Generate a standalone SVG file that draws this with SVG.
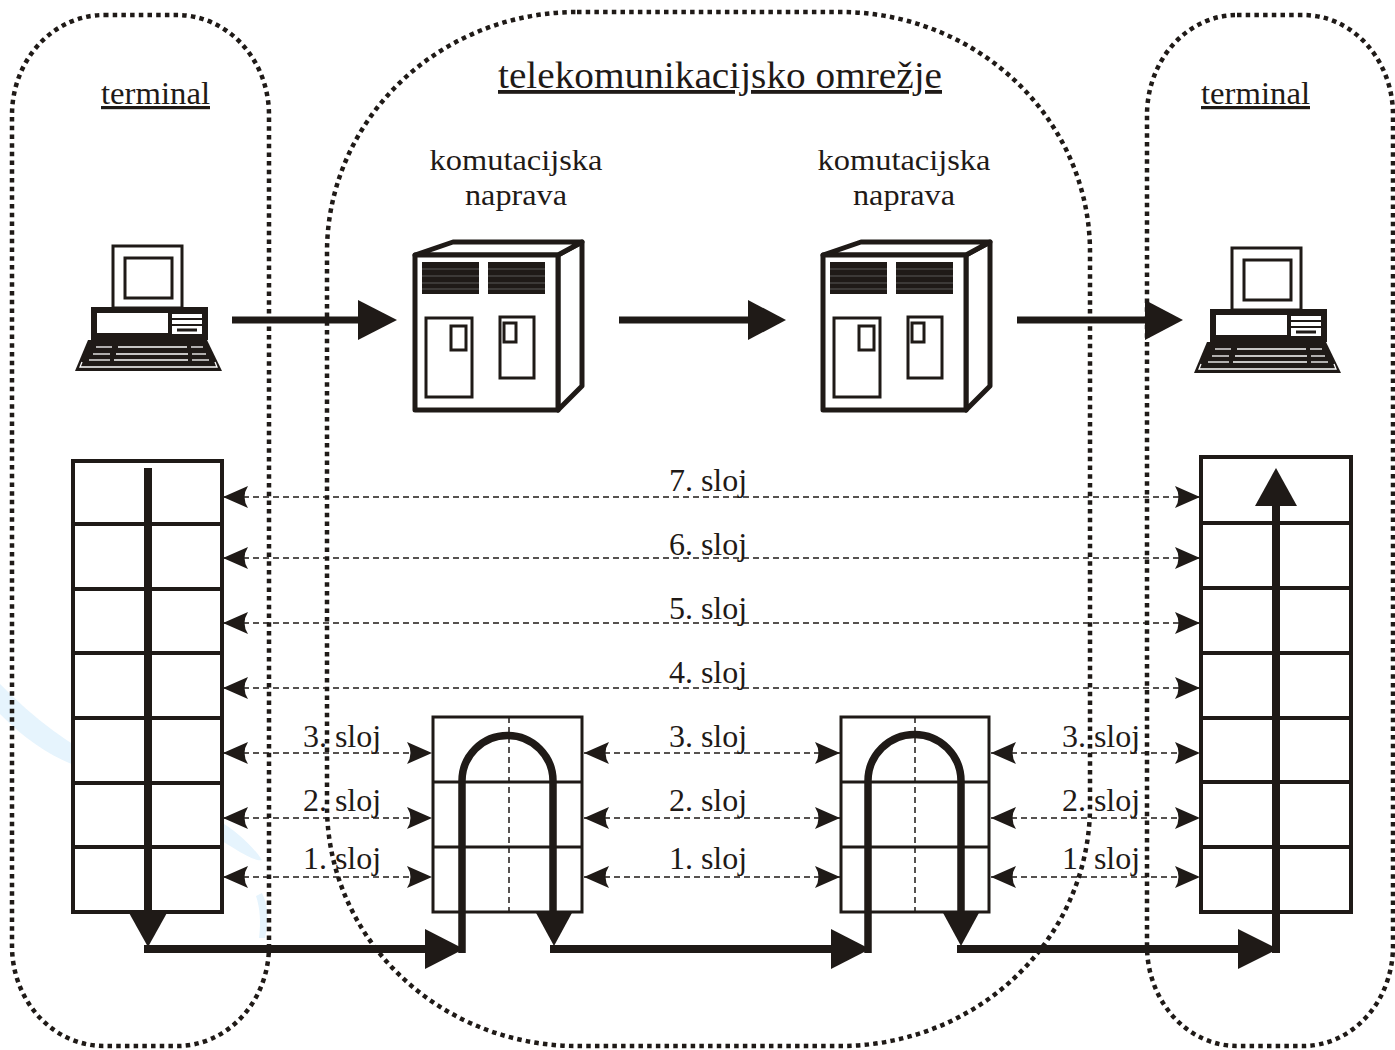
<svg xmlns="http://www.w3.org/2000/svg" width="1395" height="1050" viewBox="0 0 1395 1050">
  <style>
    .zone{fill:none;stroke:#1f1a17;stroke-width:4.5;stroke-dasharray:4.5 4.2}
    .txt{font-family:"Liberation Serif","Times New Roman",serif;fill:#1f1a17;text-anchor:middle}
    .ul{text-decoration:underline}
    .cell{fill:#fff;stroke:#1f1a17;stroke-width:4}
    .row{stroke:#1f1a17;stroke-width:4}
    .rbox{fill:#fff;stroke:#1f1a17;stroke-width:3}
    .rrow{stroke:#1f1a17;stroke-width:3}
    .axis{stroke:#1f1a17;stroke-width:1.5;stroke-dasharray:6 4}
    .flow{fill:none;stroke:#1f1a17;stroke-width:8}
    .loop{fill:none;stroke:#1f1a17;stroke-width:7.5}
    .head{fill:#1f1a17}
    .peer{fill:none;stroke:#1f1a17;stroke-width:1.5;stroke-dasharray:6 4;marker-start:url(#peerHead);marker-end:url(#peerHead)}
    .ink{fill:#1f1a17}
    .wline{stroke:#fff;stroke-width:1.3}
    .vent{stroke:#6b6b6b;stroke-width:0.8}
    .face{fill:#fff;stroke:#1f1a17;stroke-width:5;stroke-linejoin:round}
    .thin{fill:#fff;stroke:#1f1a17;stroke-width:3}
  </style>
  <defs>
    <marker id="peerHead" viewBox="0 0 25 22" refX="25" refY="11" markerWidth="25" markerHeight="22" markerUnits="userSpaceOnUse" orient="auto-start-reverse">
      <path d="M25,11 L0,0 Q7,11 0,22 Z" fill="#1f1a17"/>
    </marker>
    <!-- desktop computer icon -->
    <g id="pc">
      <rect x="113" y="246" width="69" height="62" class="thin" stroke-width="3.5"/>
      <rect x="125" y="258" width="47" height="40" class="thin" stroke-width="3.5"/>
      <rect x="91" y="307" width="117" height="33" class="ink"/>
      <rect x="97" y="313" width="71" height="20" fill="#fff"/>
      <rect x="172" y="314" width="30" height="4" fill="#fff"/>
      <rect x="172" y="320" width="30" height="4" fill="#fff"/>
      <rect x="172" y="326" width="30" height="8" fill="#fff"/>
      <rect x="177" y="328.5" width="20" height="3" class="ink"/>
      <polygon points="88,340 207,340 222,371 75,371" class="ink"/>
      <g class="wline">
        <line x1="96" y1="347" x2="112" y2="347"/>
        <line x1="118" y1="347" x2="187" y2="347"/>
        <line x1="191" y1="347" x2="203" y2="347"/>
        <line x1="93" y1="354" x2="110" y2="354"/>
        <line x1="116" y1="354" x2="188" y2="354"/>
        <line x1="192" y1="354" x2="206" y2="354"/>
        <line x1="89" y1="360" x2="110" y2="360"/>
        <line x1="114" y1="360" x2="188" y2="360"/>
        <line x1="192" y1="360" x2="209" y2="360"/>
        <polyline points="82,362 80,367 217,367 215,362" fill="none"/>
      </g>
    </g>
    <!-- switching cabinet icon -->
    <g id="cabinet">
      <polygon points="558,255 582,242 582,386 558,410" class="face"/>
      <polygon points="415,255 453,242 582,242 558,255" class="face"/>
      <rect x="415" y="255" width="143" height="155" class="face"/>
      <rect x="422" y="262" width="57" height="32" class="ink"/>
      <rect x="488" y="262" width="57" height="32" class="ink"/>
      <g class="vent">
        <line x1="422" y1="269" x2="479" y2="269"/>
        <line x1="422" y1="276" x2="479" y2="276"/>
        <line x1="422" y1="283" x2="479" y2="283"/>
        <line x1="422" y1="289" x2="479" y2="289"/>
        <line x1="488" y1="269" x2="545" y2="269"/>
        <line x1="488" y1="276" x2="545" y2="276"/>
        <line x1="488" y1="283" x2="545" y2="283"/>
        <line x1="488" y1="289" x2="545" y2="289"/>
      </g>
      <rect x="426" y="318" width="46" height="79" class="thin"/>
      <rect x="451" y="326" width="15" height="24" class="thin"/>
      <rect x="500" y="317" width="34" height="61" class="thin"/>
      <rect x="504" y="323" width="12" height="19" class="thin"/>
    </g>
  </defs>

  <rect width="1395" height="1050" fill="#fff"/>

  <!-- faint background brush strokes -->
  <g fill="#e6f4fd">
    <path d="M0,684 C40,725 85,757 132,773 C95,779 45,760 0,714 Z"/>
    <path d="M170,800 C208,810 243,832 262,860 C252,862 232,846 205,831 C190,823 178,814 170,800 Z"/>
    <path d="M262,893 C268,905 269,920 265,938 L259,938 C261,922 260,908 256,896 Z"/>
  </g>

  <!-- domain outlines -->
  <g id="zones">
    <rect id="zone-terminal-a" x="12" y="15" width="257" height="1031" rx="92" ry="100" class="zone"/>
    <rect id="zone-network" x="327" y="12" width="763" height="1034" rx="250" ry="240" class="zone"/>
    <rect id="zone-terminal-b" x="1147" y="15" width="246" height="1031" rx="90" ry="100" class="zone"/>
  </g>

  <!-- headings -->
  <g id="labels">
    <text x="155.5" y="104" class="txt ul" font-size="32" textLength="109" lengthAdjust="spacingAndGlyphs">terminal</text>
    <text x="1255.5" y="104" class="txt ul" font-size="32" textLength="109" lengthAdjust="spacingAndGlyphs">terminal</text>
    <text x="720" y="88" class="txt ul" font-size="38" textLength="444" lengthAdjust="spacingAndGlyphs">telekomunikacijsko omrežje</text>
  </g>

  <!-- terminal and switch nodes -->
  <g id="terminal-a"><use href="#pc"/></g>
  <g id="terminal-b"><use href="#pc" transform="translate(1119,2)"/></g>
  <g id="switch-a">
    <text x="516" y="170" class="txt" font-size="30" textLength="173" lengthAdjust="spacingAndGlyphs">komutacijska</text>
    <text x="516" y="205" class="txt" font-size="30" textLength="102" lengthAdjust="spacingAndGlyphs">naprava</text>
    <use href="#cabinet"/>
  </g>
  <g id="switch-b">
    <text x="904" y="170" class="txt" font-size="30" textLength="173" lengthAdjust="spacingAndGlyphs">komutacijska</text>
    <text x="904" y="205" class="txt" font-size="30" textLength="102" lengthAdjust="spacingAndGlyphs">naprava</text>
    <use href="#cabinet" transform="translate(408,0)"/>
  </g>

  <!-- protocol stacks -->
  <g id="stack-a">
    <rect x="73" y="461" width="149" height="451" class="cell"/>
    <line x1="73" y1="524" x2="222" y2="524" class="row" stroke-width="5"/>
    <line x1="73" y1="589" x2="222" y2="589" class="row"/>
    <line x1="73" y1="653" x2="222" y2="653" class="row"/>
    <line x1="73" y1="718" x2="222" y2="718" class="row"/>
    <line x1="73" y1="783" x2="222" y2="783" class="row"/>
    <line x1="73" y1="847" x2="222" y2="847" class="row"/>
  </g>
  <g id="stack-b">
    <rect x="1201" y="457" width="150" height="455" class="cell"/>
    <line x1="1201" y1="523" x2="1351" y2="523" class="row"/>
    <line x1="1201" y1="588" x2="1351" y2="588" class="row"/>
    <line x1="1201" y1="653" x2="1351" y2="653" class="row"/>
    <line x1="1201" y1="718" x2="1351" y2="718" class="row"/>
    <line x1="1201" y1="782" x2="1351" y2="782" class="row"/>
    <line x1="1201" y1="847" x2="1351" y2="847" class="row"/>
  </g>
  <g id="relay-a">
    <rect x="433" y="717" width="149" height="195" class="rbox"/>
    <line x1="433" y1="782" x2="582" y2="782" class="rrow"/>
    <line x1="433" y1="847" x2="582" y2="847" class="rrow"/>
    <line x1="509" y1="717" x2="509" y2="912" class="axis"/>
  </g>
  <g id="relay-b">
    <rect x="841" y="717" width="148" height="195" class="rbox"/>
    <line x1="841" y1="782" x2="989" y2="782" class="rrow"/>
    <line x1="841" y1="847" x2="989" y2="847" class="rrow"/>
    <line x1="915" y1="717" x2="915" y2="912" class="axis"/>
  </g>

  <!-- connectors -->
  <g id="connectors">
    <!-- signal path between devices -->
    <line x1="232" y1="320" x2="362" y2="320" stroke="#1f1a17" stroke-width="7"/>
    <polygon points="358,300 358,340 397,320" class="head"/>
    <line x1="619" y1="320" x2="752" y2="320" stroke="#1f1a17" stroke-width="7"/>
    <polygon points="748,300 748,340 786,320" class="head"/>
    <line x1="1017" y1="320" x2="1149" y2="320" stroke="#1f1a17" stroke-width="7"/>
    <polygon points="1145,300 1145,340 1183,320" class="head"/>

    <!-- data flow through the layers -->
    <line x1="148" y1="468" x2="148" y2="914" class="flow"/>
    <polygon points="128,911 168,911 148,947" class="head"/>
    <line x1="144" y1="949" x2="430" y2="949" class="flow"/>
    <polygon points="425,929 425,969 464,949" class="head"/>
    <path d="M462,953 V781 A45.5,45.5 0 0 1 553,781 V914" class="loop"/>
    <polygon points="535,911 573,911 554,946" class="head"/>
    <line x1="550" y1="949" x2="836" y2="949" class="flow"/>
    <polygon points="831,929 831,969 870,949" class="head"/>
    <path d="M868,953 V781 A46.5,46.5 0 0 1 961,781 V914" class="loop"/>
    <polygon points="942,911 980,911 961,946" class="head"/>
    <line x1="957" y1="949" x2="1242" y2="949" class="flow"/>
    <polygon points="1238,929 1238,969 1278,949" class="head"/>
    <line x1="1276" y1="953" x2="1276" y2="502" class="flow"/>
    <polygon points="1255,506 1297,506 1276,468" class="head"/>

    <!-- peer-to-peer layer relations -->
    <line x1="223" y1="497" x2="1200" y2="497" class="peer"/>
    <line x1="223" y1="558" x2="1200" y2="558" class="peer"/>
    <line x1="223" y1="623" x2="1200" y2="623" class="peer"/>
    <line x1="223" y1="688" x2="1200" y2="688" class="peer"/>
    <line x1="223" y1="753" x2="432" y2="753" class="peer"/>
    <line x1="223" y1="818" x2="432" y2="818" class="peer"/>
    <line x1="223" y1="877" x2="432" y2="877" class="peer"/>
    <line x1="584" y1="753" x2="840" y2="753" class="peer"/>
    <line x1="584" y1="818" x2="840" y2="818" class="peer"/>
    <line x1="584" y1="877" x2="840" y2="877" class="peer"/>
    <line x1="991" y1="753" x2="1200" y2="753" class="peer"/>
    <line x1="991" y1="818" x2="1200" y2="818" class="peer"/>
    <line x1="991" y1="877" x2="1200" y2="877" class="peer"/>
  </g>

  <!-- layer labels -->
  <g id="layer-labels" class="txt" font-size="32">
    <text x="708" y="491">7. sloj</text>
    <text x="708" y="555">6. sloj</text>
    <text x="708" y="619">5. sloj</text>
    <text x="708" y="683">4. sloj</text>
    <text x="342" y="747">3. sloj</text>
    <text x="342" y="811">2. sloj</text>
    <text x="342" y="869">1. sloj</text>
    <text x="708" y="747">3. sloj</text>
    <text x="708" y="811">2. sloj</text>
    <text x="708" y="869">1. sloj</text>
    <text x="1101" y="747">3. sloj</text>
    <text x="1101" y="811">2. sloj</text>
    <text x="1101" y="869">1. sloj</text>
  </g>
</svg>
